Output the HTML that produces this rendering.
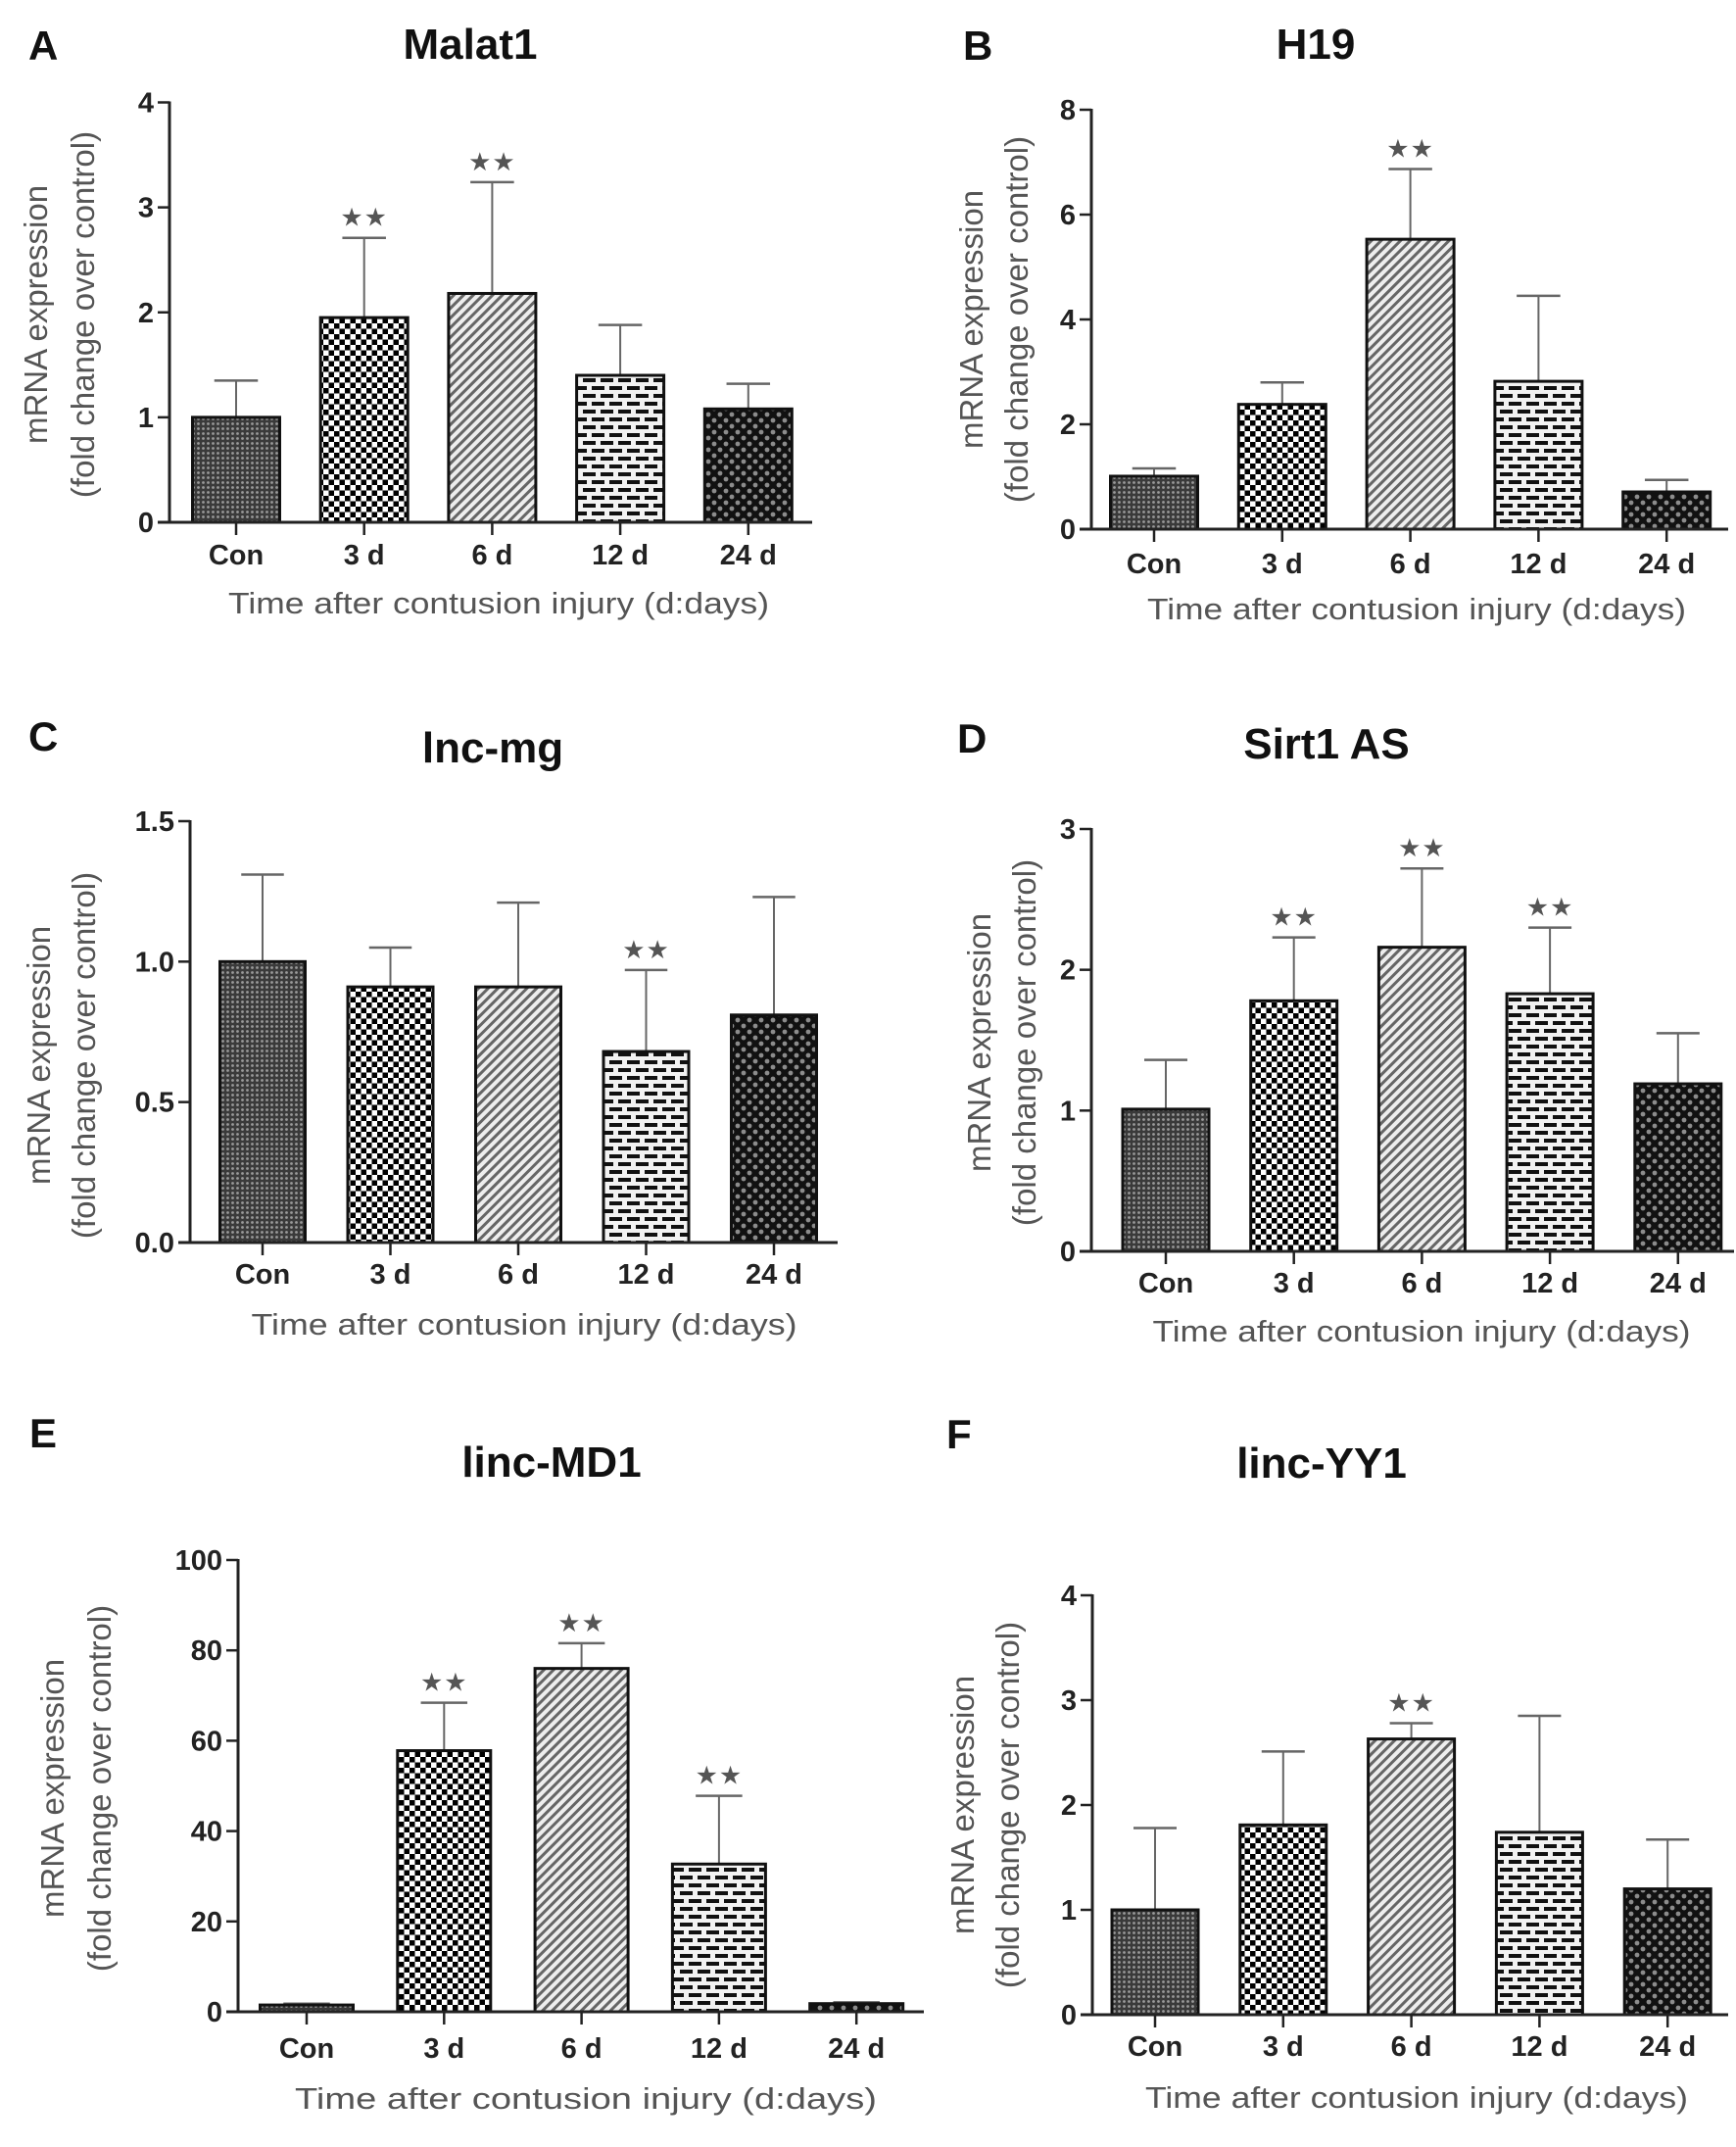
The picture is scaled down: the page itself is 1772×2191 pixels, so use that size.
<!DOCTYPE html>
<html><head><meta charset="utf-8">
<style>
html,body{margin:0;padding:0;background:#fff;}
svg{display:block;}
text{font-family:"Liberation Sans",Arial,sans-serif;}
</style></head>
<body>
<svg id="fig" xmlns="http://www.w3.org/2000/svg" width="1772" height="2191" viewBox="0 0 1772 2191">
<defs>
  <pattern id="p-con" patternUnits="userSpaceOnUse" width="5" height="5">
    <rect width="5" height="5" fill="#3a3a3a"/>
    <circle cx="2.5" cy="2.5" r="1.4" fill="#9a9a9a"/>
  </pattern>
  <pattern id="p-3d" patternUnits="userSpaceOnUse" width="11" height="11">
    <rect width="11" height="11" fill="#fff"/>
    <rect x="0" y="0" width="5.5" height="5.5" fill="#000"/>
    <rect x="5.5" y="5.5" width="5.5" height="5.5" fill="#000"/>
  </pattern>
  <pattern id="p-6d" patternUnits="userSpaceOnUse" width="7" height="7" patternTransform="rotate(45)">
    <rect width="7" height="7" fill="#eee"/>
    <rect x="0" y="0" width="3" height="7" fill="#666"/>
  </pattern>
  <pattern id="p-12d" patternUnits="userSpaceOnUse" width="18" height="16">
    <rect width="18" height="16" fill="#f2f2f2"/>
    <rect x="1" y="2" width="13" height="4" fill="#111"/>
    <rect x="10" y="10" width="13" height="4" fill="#111"/>
    <rect x="-8" y="10" width="13" height="4" fill="#111"/>
  </pattern>
  <pattern id="p-24d" patternUnits="userSpaceOnUse" width="12" height="12">
    <rect width="12" height="12" fill="#111"/>
    <circle cx="3" cy="3" r="2.4" fill="#8c8c8c"/>
    <circle cx="9" cy="9" r="2.4" fill="#8c8c8c"/>
  </pattern>
</defs>
<g id="root"></g>
</svg>
<script>
// ---- data ----
const categories = ["Con", "3d", "6d", "12d", "24d"];
const catLabels = ["Con", "3 d", "6 d", "12 d", "24 d"];

const valuesA = [1.0, 1.95, 2.18, 1.40, 1.08];
const errorsA = [1.35, 2.71, 3.24, 1.88, 1.32];
const starsA = [false, true, true, false, false];
const ticksA = [0, 1, 2, 3, 4];
const tickLabelsA = ["0", "1", "2", "3", "4"];

const valuesB = [1.01, 2.38, 5.53, 2.82, 0.71];
const errorsB = [1.16, 2.80, 6.87, 4.45, 0.94];
const starsB = [false, false, true, false, false];
const ticksB = [0, 2, 4, 6, 8];
const tickLabelsB = ["0", "2", "4", "6", "8"];

const valuesC = [1.0, 0.91, 0.91, 0.68, 0.81];
const errorsC = [1.31, 1.05, 1.21, 0.97, 1.23];
const starsC = [false, false, false, true, false];
const ticksC = [0, 0.5, 1.0, 1.5];
const tickLabelsC = ["0.0", "0.5", "1.0", "1.5"];

const valuesD = [1.01, 1.78, 2.16, 1.83, 1.19];
const errorsD = [1.36, 2.23, 2.72, 2.30, 1.55];
const starsD = [false, true, true, true, false];
const ticksD = [0, 1, 2, 3];
const tickLabelsD = ["0", "1", "2", "3"];

const valuesE = [1.5, 57.8, 76.0, 32.7, 1.8];
const errorsE = [1.8, 68.4, 81.6, 47.8, 2.1];
const starsE = [false, true, true, true, false];
const ticksE = [0, 20, 40, 60, 80, 100];
const tickLabelsE = ["0", "20", "40", "60", "80", "100"];

const valuesF = [1.0, 1.81, 2.63, 1.74, 1.2];
const errorsF = [1.78, 2.51, 2.78, 2.85, 1.67];
const starsF = [false, false, true, false, false];
const ticksF = [0, 1, 2, 3, 4];
const tickLabelsF = ["0", "1", "2", "3", "4"];

const titles = ["Malat1", "H19", "lnc-mg", "Sirt1 AS", "linc-MD1", "linc-YY1"];
const letters = ["A", "B", "C", "D", "E", "F"];

// ---- layout (pixel geometry, not data) ----
const layouts = [
  {ax:173, end:829, y0:533, yTop:104.5, c0:241, step:130.7, bw:89, tx:480, ty:60, lx:29, ly:61, atx:509, aty:626, atw:552, tly:576, ylc:321, yl1:37, yl2:85},
  {ax:1114, end:1764, y0:540, yTop:112, c0:1178, step:130.8, bw:89, tx:1343, ty:60, lx:983, ly:61, atx:1446, aty:632, atw:550, tly:585, ylc:326, yl1:992, yl2:1038},
  {ax:194, end:855, y0:1268, yTop:838, c0:268, step:130.5, bw:87, tx:503, ty:778, lx:29, ly:766, atx:535, aty:1362, atw:557, tly:1310, ylc:1077, yl1:40, yl2:86},
  {ax:1114, end:1770, y0:1277, yTop:846, c0:1190, step:130.7, bw:88, tx:1354, ty:774, lx:977, ly:768, atx:1451, aty:1369, atw:549, tly:1319, ylc:1064, yl1:1000, yl2:1046},
  {ax:243, end:943, y0:2053, yTop:1592, c0:313, step:140.3, bw:95, tx:563, ty:1507, lx:30, ly:1477, atx:598, aty:2152, atw:594, tly:2100, ylc:1825, yl1:54, yl2:102},
  {ax:1115, end:1764, y0:2056, yTop:1628, c0:1179, step:130.8, bw:88, tx:1349, ty:1508, lx:966, ly:1478, atx:1446, aty:2151, atw:554, tly:2098, ylc:1842, yl1:983, yl2:1029}
];
const panelData = [
  [valuesA, errorsA, starsA, ticksA, tickLabelsA],
  [valuesB, errorsB, starsB, ticksB, tickLabelsB],
  [valuesC, errorsC, starsC, ticksC, tickLabelsC],
  [valuesD, errorsD, starsD, ticksD, tickLabelsD],
  [valuesE, errorsE, starsE, ticksE, tickLabelsE],
  [valuesF, errorsF, starsF, ticksF, tickLabelsF]
];
const fills = ["url(#p-con)", "url(#p-3d)", "url(#p-6d)", "url(#p-12d)", "url(#p-24d)"];

const NS = "http://www.w3.org/2000/svg";
const root = document.getElementById("root");
function mk(tag, attrs, parent, txt) {
  const e = document.createElementNS(NS, tag);
  for (const k in attrs) e.setAttribute(k, attrs[k]);
  if (txt !== undefined) e.textContent = txt;
  parent.appendChild(e);
  return e;
}

panelData.forEach((pd, p) => {
  const [vals, errs, stars, ticks, tickLabels] = pd;
  const L = layouts[p];
  const yMax = ticks[ticks.length - 1];
  const yScale = v => L.y0 - (v / yMax) * (L.y0 - L.yTop);
  const xScale = i => L.c0 + i * L.step;

  const g = mk("g", {}, root);
  
  

  const lt = mk("text", {x:L.lx, y:L.ly, "font-size":42, "font-weight":"bold", fill:"#111"}, g, letters[p]);
  
  

  const tt = mk("text", {x:L.tx, y:L.ty, "font-size":44, "font-weight":"bold", fill:"#111", "text-anchor":"middle"}, g, titles[p]);
  
  

  vals.forEach((v, i) => {
    const cx = xScale(i);
    const top = yScale(v);
    const eTop = yScale(errs[i]);
    const el = mk("line", {x1:cx, y1:top, x2:cx, y2:eTop, stroke:"#666", "stroke-width":2}, g);
    
    
    const cap = mk("line", {x1:cx - L.bw/4, y1:eTop, x2:cx + L.bw/4, y2:eTop, stroke:"#666", "stroke-width":2.5}, g);
    
    
    const r = mk("rect", {x:cx - L.bw/2, y:top, width:L.bw, height:Math.max(L.y0 - top, 0.5), fill:fills[i], stroke:"#111", "stroke-width":3}, g);
    
    
    if (stars[i]) {
      const s = mk("text", {x:cx, y:eTop - 12, "font-size":26, fill:"#555", "text-anchor":"middle", "font-family":"DejaVu Sans, sans-serif", "letter-spacing":"1"}, g, "★★");
      
      
    }
    const tk = mk("line", {x1:cx, y1:L.y0, x2:cx, y2:L.y0 + 13, stroke:"#222", "stroke-width":2.5}, g);
    
    
    const tl = mk("text", {x:cx, y:L.tly, "font-size":29, "font-weight":"bold", fill:"#222", "text-anchor":"middle"}, g, catLabels[i]);
    
    
  });

  const ya = mk("line", {x1:L.ax, y1:L.yTop - 1, x2:L.ax, y2:L.y0, stroke:"#222", "stroke-width":3}, g);
  
  
  const xa = mk("line", {x1:L.ax - 12, y1:L.y0, x2:L.end, y2:L.y0, stroke:"#222", "stroke-width":3}, g);
  
  

  ticks.forEach((t, k) => {
    const y = yScale(t);
    const tk = mk("line", {x1:L.ax - 12, y1:y, x2:L.ax, y2:y, stroke:"#222", "stroke-width":2.5}, g);
    
    
    const tl = mk("text", {x:L.ax - 16, y:y + 10, "font-size":29, "font-weight":"bold", fill:"#222", "text-anchor":"end"}, g, tickLabels[k]);
    
    
  });

  const at = mk("text", {x:L.atx, y:L.aty, "font-size":31, fill:"#555", "text-anchor":"middle", textLength:L.atw, lengthAdjust:"spacingAndGlyphs"}, g, "Time after contusion injury (d:days)");
  
  

  const yg = mk("g", {transform:"rotate(-90)"}, g);
  
  
  const y1 = mk("text", {x:-L.ylc, y:L.yl1 + 11, "font-size":33, fill:"#555", "text-anchor":"middle"}, yg, "mRNA expression");
  
  
  const y2 = mk("text", {x:-L.ylc, y:L.yl2 + 11, "font-size":33, fill:"#555", "text-anchor":"middle"}, yg, "(fold change over control)");
  
  
});
</script>
</body></html>
